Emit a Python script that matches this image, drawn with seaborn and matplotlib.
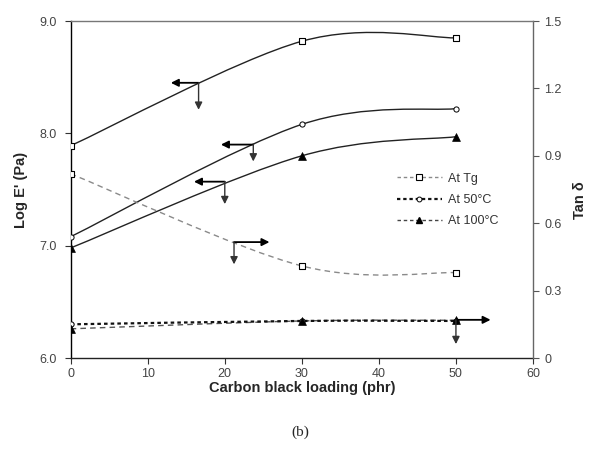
import numpy as np
import matplotlib
matplotlib.use("Agg")
import matplotlib.pyplot as plt
import seaborn as sns
from matplotlib.path import Path
from matplotlib.patches import PathPatch
from matplotlib.lines import Line2D

# ---------------- data ----------------
loading = [0, 30, 50]
logE_tg = [7.89, 8.82, 8.85]
logE_50 = [7.08, 8.08, 8.22]
logE_100 = [6.98, 7.80, 7.97]
tan_tg = [0.82, 0.41, 0.38]
tan_50 = [0.15, 0.165, 0.165]
tan_100 = [0.13, 0.165, 0.168]

series_labels = ["At Tg", "At 50°C", "At 100°C"]
x_ticks = [0, 10, 20, 30, 40, 50, 60]
x_tick_labels = ["0", "10", "20", "30", "40", "50", "60"]
left_ticks = [6.0, 7.0, 8.0, 9.0]
left_tick_labels = ["6.0", "7.0", "8.0", "9.0"]
right_ticks = [0, 0.3, 0.6, 0.9, 1.2, 1.5]
right_tick_labels = ["0", "0.3", "0.6", "0.9", "1.2", "1.5"]

# arrow annotations: (junction x, junction y, horizontal tip x, vertical tip y, axis)
arrows = [
    (16.6, 8.45, 13.0, 8.21, "left"),
    (23.7, 7.90, 19.5, 7.75, "left"),
    (20.0, 7.57, 16.0, 7.37, "left"),
    (21.2, 0.516, 25.8, 0.417, "right"),
    (50.0, 0.170, 54.5, 0.062, "right"),
]

# ---------------- style ----------------
sns.set_style("ticks")
plt.rcParams['font.family'] = ['Liberation Sans', 'DejaVu Sans']

fig = plt.figure(figsize=(5.92, 4.59), dpi=100)
ax = fig.add_axes([0.1194, 0.2200, 0.7809, 0.7342])
ax2 = ax.twinx()


def smooth_path(xs, ys):
    """Excel-like smoothed line: cubic Bezier through the data points."""
    pts = np.column_stack([xs, ys]).astype(float)
    n = len(pts)
    verts = [pts[0]]
    codes = [Path.MOVETO]
    for i in range(n - 1):
        p0 = pts[i - 1] if i > 0 else pts[i]
        p1 = pts[i]
        p2 = pts[i + 1]
        p3 = pts[i + 2] if i + 2 < n else pts[i + 1]
        c1 = p1 + (p2 - p0) / 6.0
        c2 = p2 - (p3 - p1) / 6.0
        verts += [c1, c2, p2]
        codes += [Path.CURVE4] * 3
    return Path(verts, codes)


def add_curve(a, xs, ys, color, lw, ls):
    patch = PathPatch(smooth_path(xs, ys), facecolor='none', edgecolor=color,
                      lw=lw, linestyle=ls, zorder=2)
    a.add_patch(patch)


# E' (solid) curves on left axis
add_curve(ax, loading, logE_tg, '#222222', 1.0, '-')
add_curve(ax, loading, logE_50, '#222222', 1.0, '-')
add_curve(ax, loading, logE_100, '#222222', 1.0, '-')

# tan delta curves on right axis
add_curve(ax2, loading, tan_tg, '#8a8a8a', 1.0, (0, (4, 3)))
add_curve(ax2, loading, tan_100, '#555555', 1.0, (0, (4, 3)))
add_curve(ax2, loading, tan_50, '#111111', 1.6, (0, (1.6, 1.4)))

# markers
sq = dict(marker='s', s=20, color='white', edgecolor='black', linewidth=0.8, zorder=5)
ci = dict(marker='o', s=14, color='white', edgecolor='black', linewidth=0.7, zorder=5)
tr = dict(marker='^', s=32, color='black', edgecolor='black', linewidth=0.5, zorder=5)

sns.scatterplot(x=loading, y=logE_tg, ax=ax, legend=False, **sq)
sns.scatterplot(x=loading, y=logE_50, ax=ax, legend=False, **ci)
sns.scatterplot(x=loading, y=logE_100, ax=ax, legend=False, **tr)
sns.scatterplot(x=loading, y=tan_tg, ax=ax2, legend=False, **sq)
sns.scatterplot(x=loading, y=tan_50, ax=ax2, legend=False, **ci)
sns.scatterplot(x=loading, y=tan_100, ax=ax2, legend=False, **tr)

# arrows
for jx, jy, hx, vy, side in arrows:
    a = ax if side == "left" else ax2
    a.annotate("", xy=(hx, jy), xytext=(jx, jy),
               arrowprops=dict(arrowstyle='-|>', mutation_scale=11, lw=1.3,
                               color='black', shrinkA=0, shrinkB=0), zorder=6)
    a.annotate("", xy=(jx, vy), xytext=(jx, jy),
               arrowprops=dict(arrowstyle='-|>', mutation_scale=11, lw=1.0,
                               color='#333333', shrinkA=0, shrinkB=0), zorder=6)

# axes limits & ticks
ax.set_xlim(0, 60)
ax.set_ylim(6.0, 9.0)
ax2.set_ylim(0, 1.5)
ax.set_xticks(x_ticks)
ax.set_xticklabels(x_tick_labels)
ax.set_yticks(left_ticks)
ax.set_yticklabels(left_tick_labels)
ax2.set_yticks(right_ticks)
ax2.set_yticklabels(right_tick_labels)

tick_col = '#444444'
ax.tick_params(axis='both', direction='out', length=4, width=0.8,
               labelsize=9, colors='#333333', labelcolor=tick_col, pad=6)
ax.tick_params(axis='x', pad=3)
ax2.tick_params(axis='y', direction='out', length=4, width=0.8,
                labelsize=9, colors='#555555', labelcolor=tick_col, pad=4)

# spines
for s in ['top', 'right']:
    ax.spines[s].set_visible(False)
ax.spines['left'].set_color('black')
ax.spines['bottom'].set_color('#222222')
ax.spines['left'].set_linewidth(1.0)
ax.spines['bottom'].set_linewidth(1.0)
for s in ['left', 'bottom']:
    ax2.spines[s].set_visible(False)
ax2.spines['top'].set_visible(True)
ax2.spines['top'].set_color('#777777')
ax2.spines['right'].set_color('#666666')
ax2.spines['top'].set_linewidth(1.0)
ax2.spines['right'].set_linewidth(1.0)

# labels
ax.set_xlabel("Carbon black loading (phr)", fontsize=10.5, fontweight='bold', labelpad=1)
ax.set_ylabel("Log E' (Pa)", fontsize=10.5, fontweight='bold')
ax.yaxis.set_label_coords(-0.092, 0.5)
ax2.set_ylabel("Tan δ", fontsize=10.5, fontweight='bold', rotation=90)
ax2.yaxis.set_label_coords(1.087, 0.47)

fig.text(0.507, 0.058, "(b)", fontsize=11, family=['Liberation Serif', 'DejaVu Serif'],
         ha='center', va='center')

# legend
handles = [
    Line2D([], [], color='#8a8a8a', lw=1.0, linestyle=(0, (2.5, 2)), marker='s',
           markersize=4, markerfacecolor='white', markeredgecolor='black', markeredgewidth=0.8),
    Line2D([], [], color='#111111', lw=1.6, linestyle=(0, (1.5, 1.3)), marker='o',
           markersize=3.5, markerfacecolor='white', markeredgecolor='black', markeredgewidth=0.7),
    Line2D([], [], color='#444444', lw=1.0, linestyle=(0, (2.5, 2)), marker='^',
           markersize=5, markerfacecolor='black', markeredgecolor='black'),
]
leg = ax2.legend(handles, series_labels, loc='upper left', bbox_to_anchor=(0.705, 0.55),
                 frameon=False, fontsize=9, handlelength=3.6, handletextpad=0.5,
                 labelspacing=0.75, borderpad=0, borderaxespad=0, numpoints=1)
for t in leg.get_texts():
    t.set_color('#333333')

fig.savefig("out.png", dpi=100)
